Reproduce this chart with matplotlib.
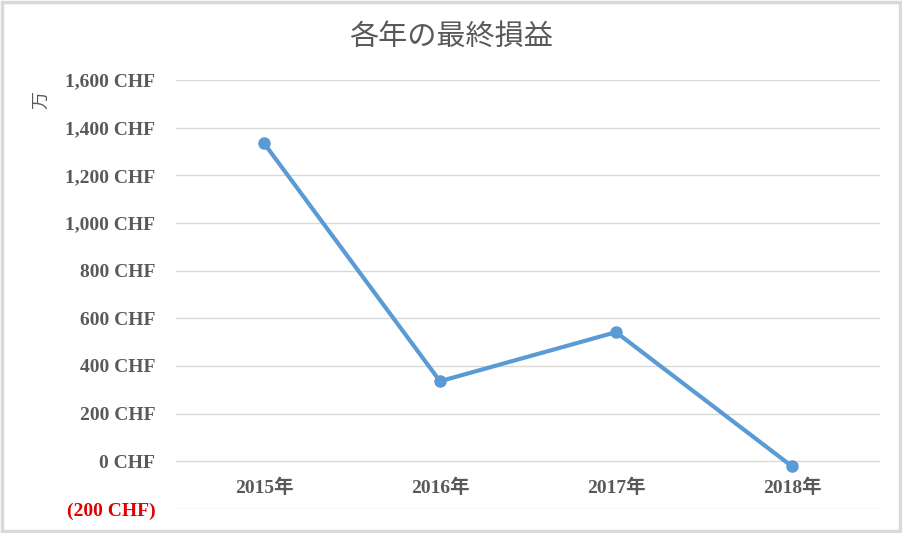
import matplotlib
matplotlib.use("Agg")
import matplotlib.pyplot as plt
from matplotlib.patches import Rectangle

categories = ["2015年", "2016年", "2017年", "2018年"]
values = [1335, 336, 542, -21]
yticks = [-200, 0, 200, 400, 600, 800, 1000, 1200, 1400, 1600]

def fmt(v):
    return f"({abs(v):,} CHF)" if v < 0 else f"{v:,} CHF"

fam = ["Liberation Serif", "Noto Sans CJK JP", "DejaVu Sans"]
plt.rcParams['font.family'] = fam

fig = plt.figure(figsize=(9.02, 5.33), dpi=100)
fig.patch.set_facecolor("white")
fig.patches.append(Rectangle((0.002, 0.003), 0.996, 0.994, transform=fig.transFigure,
                             fill=False, edgecolor="#D9D9D9", linewidth=2.5))

ax = fig.add_axes([176/902, 1-509/533, (880-176)/902, (509-80)/533])
x = list(range(len(categories)))
ax.plot(x, values, color="#5B9BD5", linewidth=3, marker="o", markersize=8,
        solid_capstyle="round", zorder=3)
ax.set_xlim(-0.5, len(categories) - 0.5)
ax.set_ylim(-200, 1600)
ax.set_yticks(yticks)
ax.set_yticklabels([fmt(v) for v in yticks])
for lbl, v in zip(ax.get_yticklabels(), yticks):
    lbl.set_color("#E00000" if v < 0 else "#595959")
    lbl.set_fontweight("bold")
    lbl.set_fontsize(14)
ax.set_xticks(x)
ax.set_xticklabels([])
ax.grid(axis="y", color="#D9D9D9", linewidth=1)
ax.set_axisbelow(True)
for s in ax.spines.values():
    s.set_visible(False)
ax.tick_params(axis="both", length=0)
ax.tick_params(axis="y", pad=15)
for xi, c in zip(x, categories):
    ax.text(xi, -112, c, ha="center", va="center", fontsize=14, color="#595959",
            fontweight="bold")

fig.text(451/902, 1-38/533, "各年の最終損益", ha="center", va="center",
         fontsize=21, color="#595959")
fig.text(42/902, 1-100/533, "万", ha="center", va="center", rotation=90,
         fontsize=13, color="#595959")

fig.savefig("out.png", dpi=100, facecolor="white")
